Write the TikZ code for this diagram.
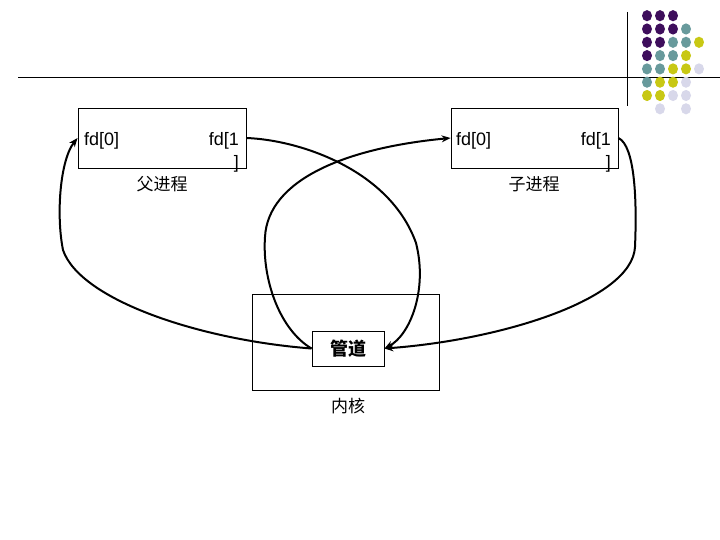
\documentclass[tikz,border=0pt]{standalone}
\usepackage{fontspec}
\setmainfont{Liberation Sans}
\newfontfamily\cjk{Noto Sans CJK SC}
\definecolor{dotpurple}{RGB}{62,14,92}
\definecolor{dotteal}{RGB}{104,154,156}
\definecolor{dotyellow}{RGB}{200,200,20}
\definecolor{dotlilac}{RGB}{216,216,234}
\usetikzlibrary{arrows.meta}

\begin{document}
\begin{tikzpicture}[
    x=1pt, y=-1pt,
    box/.style={draw, line width=0.9pt, inner sep=0pt},
    fdtext/.style={inner sep=0pt, font=\fontsize{18}{23}\selectfont},
    cnlabel/.style={inner sep=0pt, font=\cjk\fontsize{17}{20}\selectfont},
    arr/.style={-{Stealth[length=9pt, width=7pt]}, line width=2pt}
]
    \useasboundingbox (0,0) rectangle (720,540);

    % slide decoration
    \draw[line width=1pt] (18,78) -- (720,78);
    \draw[line width=1pt] (627,12) -- (627,106);
    \foreach \r/\colors in {0/{dotpurple,dotpurple,dotpurple},
                            1/{dotpurple,dotpurple,dotpurple,dotteal},
                            2/{dotpurple,dotpurple,dotteal,dotteal,dotyellow},
                            3/{dotpurple,dotteal,dotteal,dotyellow},
                            4/{dotteal,dotteal,dotyellow,dotyellow,dotlilac},
                            5/{dotteal,dotyellow,dotyellow,dotlilac},
                            6/{dotyellow,dotyellow,dotlilac,dotlilac},
                            7/{none,dotlilac,none,dotlilac}}
        \foreach \col [count=\i from 0] in \colors
            \path[fill=\col] (647+13*\i, 15.7+13.3*\r) ellipse (5 and 5.6);

    % processes
    \node[box, minimum width=168pt, minimum height=60pt] (parent) at (162,138) {};
    \node[fdtext, anchor=west] (pfd0) at (84,141) {fd[0]};
    \node[fdtext, anchor=north east, align=right] (pfd1) at (239,132) {fd[1\\]};
    \node[cnlabel] (plabel) at (162,184) {父进程};

    \node[box, minimum width=167pt, minimum height=60pt] (child) at (534.5,138) {};
    \node[fdtext, anchor=west] (cfd0) at (456,141) {fd[0]};
    \node[fdtext, anchor=north east, align=right] (cfd1) at (611,132) {fd[1\\]};
    \node[cnlabel] (clabel) at (534,184) {子进程};

    % kernel
    \node[box, minimum width=187pt, minimum height=96pt] (kernel) at (345.5,342) {};
    \node[cnlabel] (klabel) at (348,406) {内核};
    \node[box, fill=white, minimum width=72pt, minimum height=35pt,
          font=\cjk\bfseries\fontsize{18}{20}\selectfont] (pipe) at (348,348.5) {管道};

    \draw[arr] (parent.east) .. controls (300,140) and (390,170) .. (416,243)
        .. controls (428,290) and (410,335) .. (pipe.east);
    \draw[arr] (child.east) .. controls (635,146) and (637,200) .. (635,247)
        .. controls (632,300) and (500,340) .. (pipe.east);
    \draw[arr] (pipe.west) .. controls (200,340) and (80,300) .. (63,250)
        .. controls (56,215) and (60,160) .. (parent.west);
    \draw[arr] (pipe.west) .. controls (280,330) and (262,280) .. (265,237)
        .. controls (268,180) and (345,148) .. (child.west);
\end{tikzpicture}
\end{document}
